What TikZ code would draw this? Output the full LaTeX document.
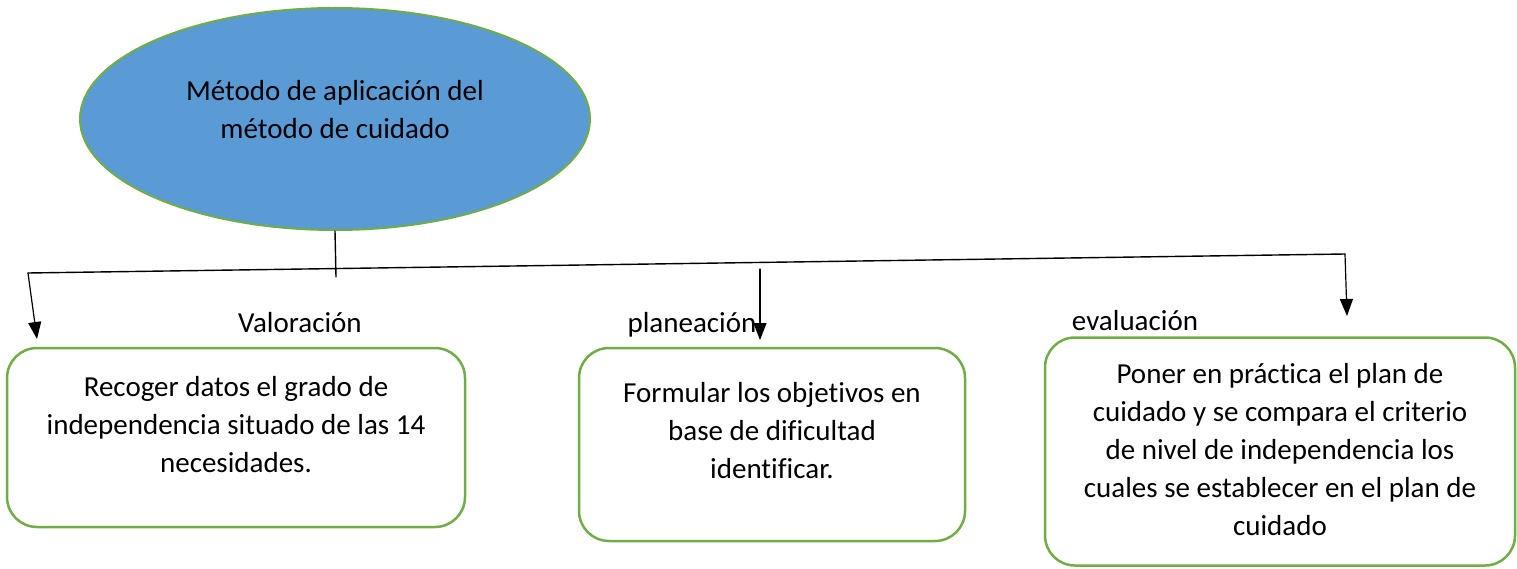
\documentclass[tikz,border=0pt]{standalone}
\usepackage{fontspec}
\setmainfont{Carlito}[Ligatures=NoCommon]
\usetikzlibrary{arrows.meta}
\usetikzlibrary{positioning}
\usetikzlibrary{shapes.geometric}

\definecolor{cielo}{HTML}{5B9BD5}
\definecolor{verde}{HTML}{70AD47}

\tikzset{
  titulo/.style={ellipse,draw=verde,line width=2pt,fill=cielo,minimum width=510pt,minimum height=222pt,align=center,text depth=20pt},
  caja/.style={draw=verde,line width=2.5pt,rounded corners=30pt,align=center},
  etiqueta/.style={anchor=base,inner sep=0pt},
}

\begin{document}
\begin{tikzpicture}[line cap=round,line join=round,>={Triangle[length=17pt,width=13pt]},x=1pt,y=-1pt,font=\fontsize{29}{38}\selectfont]
\useasboundingbox (0,0) rectangle (1517,569);
\node[titulo] (metodo) at (335,119) {Método de aplicación del\\método de cuidado};
\node[caja,minimum width=458pt,minimum height=179pt,text depth=26pt] (recoger) at (236,437.5) {Recoger datos el grado de\\independencia situado de las 14\\necesidades.};
\node[caja,minimum width=386pt,minimum height=193pt,text depth=28pt] (formular) at (772,444.5) {Formular los objetivos en\\base de dificultad\\identificar.};
\node[caja,minimum width=470pt,minimum height=228pt,text depth=4pt] (poner) at (1280,451.5) {Poner en práctica el plan de\\cuidado y se compara el criterio\\de nivel de independencia los\\cuales se establecer en el plan de\\cuidado};
\node[etiqueta] (valoracion) at (300,332) {Valoración};
\node[etiqueta] (planeacion) at (692,332) {planeación};
\node[etiqueta] (evaluacion) at (1135,330) {evaluación};
% ramas
\coordinate (izq) at (28,273);
\coordinate (der) at (1345,254);
\coordinate (tallo) at (336,277);
\coordinate (medio) at (760,269);
\coordinate (p1) at (37,339);
\coordinate (p2) at (760,340);
\coordinate (p3) at (1347,316);
\draw [line width=1.4pt] (metodo.south) -- (tallo);
\draw [line width=1.4pt] (izq) -- (der);
\draw [line width=1.2pt,->] (izq) -- (p1);
\draw [line width=1.2pt,->] (medio) -- (p2);
\draw [line width=1.2pt,->] (der) -- (p3);
\end{tikzpicture}
\end{document}
